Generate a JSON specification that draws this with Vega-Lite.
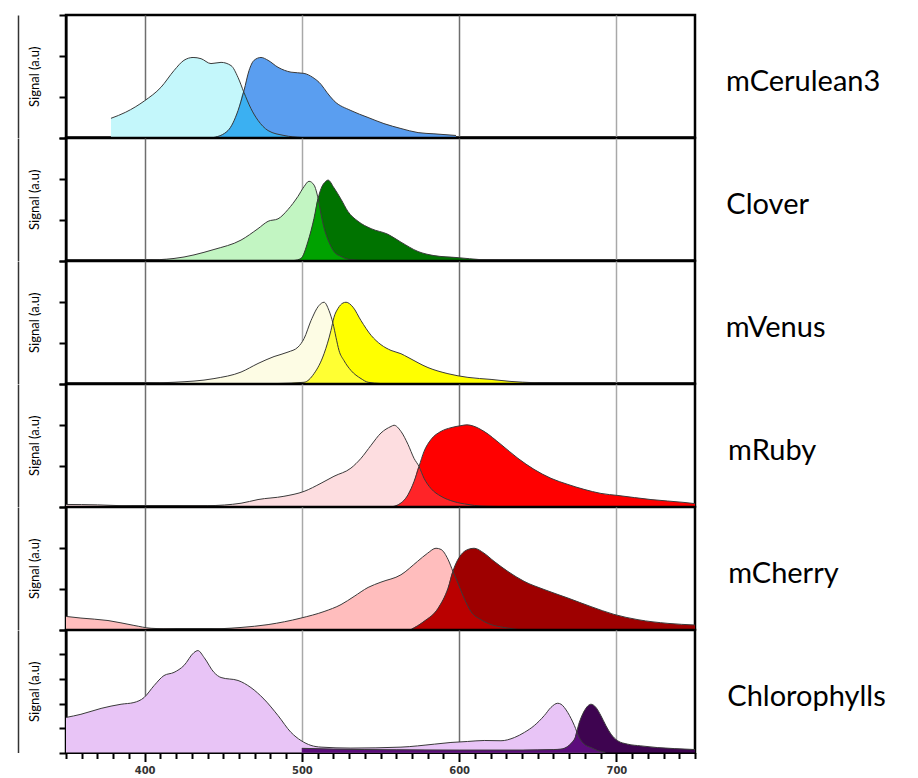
{
"$schema": "https://vega.github.io/schema/vega-lite/v6.json",
"padding": {"left": 16, "top": 12, "right": 5, "bottom": 5},
"background": "white",
"spacing": 0,
"bounds": "flush",
"config": {
  "view": {"stroke": "black", "strokeWidth": 2.5},
  "title": {"orient": "right", "angle": 0, "align": "left", "anchor": "middle", "dy": -8.5, "fontSize": 29, "font": "Lato", "fontWeight": "normal", "color": "black"},
  "axisY": {"labels": false, "tickSize": 7, "tickWidth": 2, "tickColor": "black", "domainColor": "black", "domainWidth": 2, "grid": false, "titleFont": "Lato", "titleFontSize": 13, "titleFontWeight": "normal", "titleColor": "black", "titlePadding": 17},
  "axisX": {"gridWidth": 1.5, "title": null},
  "line": {"color": "#3a3a3a", "strokeWidth": 1, "interpolate": "monotone"},
  "area": {"interpolate": "monotone"}
},
"data": {"values": [
{"dye":"mCerulean3","type":"ex","wl":378.6,"signal":0.47},{"dye":"mCerulean3","type":"ex","wl":388,"signal":0.62},{"dye":"mCerulean3","type":"ex","wl":400,"signal":0.9},{"dye":"mCerulean3","type":"ex","wl":410.4,"signal":1.23},{"dye":"mCerulean3","type":"ex","wl":418.7,"signal":1.64},{"dye":"mCerulean3","type":"ex","wl":425,"signal":1.89},{"dye":"mCerulean3","type":"ex","wl":430.8,"signal":1.96},{"dye":"mCerulean3","type":"ex","wl":435.9,"signal":1.93},{"dye":"mCerulean3","type":"ex","wl":442.2,"signal":1.81},{"dye":"mCerulean3","type":"ex","wl":448.6,"signal":1.84},{"dye":"mCerulean3","type":"ex","wl":455,"signal":1.76},{"dye":"mCerulean3","type":"ex","wl":459.4,"signal":1.47},{"dye":"mCerulean3","type":"ex","wl":463.2,"signal":1.1},{"dye":"mCerulean3","type":"ex","wl":467.6,"signal":0.71},{"dye":"mCerulean3","type":"ex","wl":472.1,"signal":0.42},{"dye":"mCerulean3","type":"ex","wl":478.5,"signal":0.17},{"dye":"mCerulean3","type":"ex","wl":488.6,"signal":0.05},{"dye":"mCerulean3","type":"ex","wl":500,"signal":0},
{"dye":"mCerulean3","type":"em","wl":444,"signal":0},{"dye":"mCerulean3","type":"em","wl":453,"signal":0.17},{"dye":"mCerulean3","type":"em","wl":459.4,"signal":0.66},{"dye":"mCerulean3","type":"em","wl":463.2,"signal":1.15},{"dye":"mCerulean3","type":"em","wl":466.4,"signal":1.64},{"dye":"mCerulean3","type":"em","wl":469.6,"signal":1.89},{"dye":"mCerulean3","type":"em","wl":474,"signal":1.96},{"dye":"mCerulean3","type":"em","wl":478.5,"signal":1.89},{"dye":"mCerulean3","type":"em","wl":484.8,"signal":1.72},{"dye":"mCerulean3","type":"em","wl":493.1,"signal":1.6},{"dye":"mCerulean3","type":"em","wl":501.4,"signal":1.57},{"dye":"mCerulean3","type":"em","wl":507,"signal":1.47},{"dye":"mCerulean3","type":"em","wl":512.2,"signal":1.3},{"dye":"mCerulean3","type":"em","wl":516,"signal":1.1},{"dye":"mCerulean3","type":"em","wl":520.4,"signal":0.9},{"dye":"mCerulean3","type":"em","wl":531.2,"signal":0.66},{"dye":"mCerulean3","type":"em","wl":542.1,"signal":0.49},{"dye":"mCerulean3","type":"em","wl":552.2,"signal":0.34},{"dye":"mCerulean3","type":"em","wl":563,"signal":0.22},{"dye":"mCerulean3","type":"em","wl":573.9,"signal":0.12},{"dye":"mCerulean3","type":"em","wl":584,"signal":0.09},{"dye":"mCerulean3","type":"em","wl":598,"signal":0.05},
{"dye":"mCerulean3","type":"ov","wl":444,"signal":0},{"dye":"mCerulean3","type":"ov","wl":453,"signal":0.17},{"dye":"mCerulean3","type":"ov","wl":459.4,"signal":0.66},{"dye":"mCerulean3","type":"ov","wl":463,"signal":1.12},{"dye":"mCerulean3","type":"ov","wl":467.6,"signal":0.71},{"dye":"mCerulean3","type":"ov","wl":472.1,"signal":0.42},{"dye":"mCerulean3","type":"ov","wl":478.5,"signal":0.17},{"dye":"mCerulean3","type":"ov","wl":488.6,"signal":0.05},{"dye":"mCerulean3","type":"ov","wl":500,"signal":0},

{"dye":"Clover","type":"ex","wl":350,"signal":0},{"dye":"Clover","type":"ex","wl":400,"signal":0.01},{"dye":"Clover","type":"ex","wl":418.7,"signal":0.05},{"dye":"Clover","type":"ex","wl":444.1,"signal":0.27},{"dye":"Clover","type":"ex","wl":461.3,"signal":0.5},{"dye":"Clover","type":"ex","wl":472.1,"signal":0.78},{"dye":"Clover","type":"ex","wl":478.5,"signal":0.96},{"dye":"Clover","type":"ex","wl":484.8,"signal":1.02},{"dye":"Clover","type":"ex","wl":491.2,"signal":1.25},{"dye":"Clover","type":"ex","wl":497.5,"signal":1.57},{"dye":"Clover","type":"ex","wl":501.4,"signal":1.81},{"dye":"Clover","type":"ex","wl":504.5,"signal":1.94},{"dye":"Clover","type":"ex","wl":507.7,"signal":1.85},{"dye":"Clover","type":"ex","wl":510.3,"signal":1.52},{"dye":"Clover","type":"ex","wl":512.2,"signal":1.13},{"dye":"Clover","type":"ex","wl":514.1,"signal":0.8},{"dye":"Clover","type":"ex","wl":516.6,"signal":0.51},{"dye":"Clover","type":"ex","wl":520.4,"signal":0.22},{"dye":"Clover","type":"ex","wl":524.9,"signal":0.1},{"dye":"Clover","type":"ex","wl":531.2,"signal":0.02},{"dye":"Clover","type":"ex","wl":540,"signal":0},
{"dye":"Clover","type":"em","wl":495,"signal":0},{"dye":"Clover","type":"em","wl":499.4,"signal":0.05},{"dye":"Clover","type":"em","wl":503.9,"signal":0.47},{"dye":"Clover","type":"em","wl":507.7,"signal":1.03},{"dye":"Clover","type":"em","wl":510.3,"signal":1.52},{"dye":"Clover","type":"em","wl":512.2,"signal":1.76},{"dye":"Clover","type":"em","wl":515.3,"signal":1.94},{"dye":"Clover","type":"em","wl":516.6,"signal":1.97},{"dye":"Clover","type":"em","wl":520.4,"signal":1.78},{"dye":"Clover","type":"em","wl":524.9,"signal":1.5},{"dye":"Clover","type":"em","wl":529.3,"signal":1.2},{"dye":"Clover","type":"em","wl":535.7,"signal":0.96},{"dye":"Clover","type":"em","wl":544,"signal":0.78},{"dye":"Clover","type":"em","wl":554.8,"signal":0.64},{"dye":"Clover","type":"em","wl":563,"signal":0.45},{"dye":"Clover","type":"em","wl":573.9,"signal":0.22},{"dye":"Clover","type":"em","wl":584,"signal":0.12},{"dye":"Clover","type":"em","wl":599.3,"signal":0.07},{"dye":"Clover","type":"em","wl":613.9,"signal":0.02},{"dye":"Clover","type":"em","wl":625,"signal":0},
{"dye":"Clover","type":"ov","wl":495,"signal":0},{"dye":"Clover","type":"ov","wl":499.4,"signal":0.05},{"dye":"Clover","type":"ov","wl":503.9,"signal":0.47},{"dye":"Clover","type":"ov","wl":507.7,"signal":1.03},{"dye":"Clover","type":"ov","wl":510.3,"signal":1.52},{"dye":"Clover","type":"ov","wl":512.2,"signal":1.13},{"dye":"Clover","type":"ov","wl":514.1,"signal":0.8},{"dye":"Clover","type":"ov","wl":516.6,"signal":0.51},{"dye":"Clover","type":"ov","wl":520.4,"signal":0.22},{"dye":"Clover","type":"ov","wl":524.9,"signal":0.1},{"dye":"Clover","type":"ov","wl":531.2,"signal":0.02},{"dye":"Clover","type":"ov","wl":540,"signal":0},

{"dye":"mVenus","type":"ex","wl":350,"signal":0},{"dye":"mVenus","type":"ex","wl":400,"signal":0.01},{"dye":"mVenus","type":"ex","wl":418.7,"signal":0.03},{"dye":"mVenus","type":"ex","wl":444.1,"signal":0.12},{"dye":"mVenus","type":"ex","wl":461.3,"signal":0.28},{"dye":"mVenus","type":"ex","wl":472.1,"signal":0.49},{"dye":"mVenus","type":"ex","wl":482.3,"signal":0.66},{"dye":"mVenus","type":"ex","wl":491.2,"signal":0.77},{"dye":"mVenus","type":"ex","wl":497.5,"signal":0.89},{"dye":"mVenus","type":"ex","wl":501.4,"signal":1.1},{"dye":"mVenus","type":"ex","wl":505.8,"signal":1.54},{"dye":"mVenus","type":"ex","wl":510.9,"signal":1.91},{"dye":"mVenus","type":"ex","wl":514.1,"signal":1.99},{"dye":"mVenus","type":"ex","wl":517.2,"signal":1.79},{"dye":"mVenus","type":"ex","wl":519.8,"signal":1.47},{"dye":"mVenus","type":"ex","wl":521.7,"signal":1.13},{"dye":"mVenus","type":"ex","wl":523.6,"signal":0.81},{"dye":"mVenus","type":"ex","wl":526.8,"signal":0.56},{"dye":"mVenus","type":"ex","wl":531.2,"signal":0.32},{"dye":"mVenus","type":"ex","wl":537.6,"signal":0.12},{"dye":"mVenus","type":"ex","wl":542.1,"signal":0.03},{"dye":"mVenus","type":"ex","wl":550,"signal":0},
{"dye":"mVenus","type":"em","wl":484.8,"signal":0},{"dye":"mVenus","type":"em","wl":501.4,"signal":0.03},{"dye":"mVenus","type":"em","wl":507.7,"signal":0.24},{"dye":"mVenus","type":"em","wl":514.1,"signal":0.73},{"dye":"mVenus","type":"em","wl":518.5,"signal":1.3},{"dye":"mVenus","type":"em","wl":520.4,"signal":1.62},{"dye":"mVenus","type":"em","wl":523,"signal":1.84},{"dye":"mVenus","type":"em","wl":526.1,"signal":1.97},{"dye":"mVenus","type":"em","wl":528.1,"signal":1.99},{"dye":"mVenus","type":"em","wl":532.5,"signal":1.87},{"dye":"mVenus","type":"em","wl":537.6,"signal":1.54},{"dye":"mVenus","type":"em","wl":544,"signal":1.18},{"dye":"mVenus","type":"em","wl":550.3,"signal":0.95},{"dye":"mVenus","type":"em","wl":556.7,"signal":0.81},{"dye":"mVenus","type":"em","wl":563,"signal":0.73},{"dye":"mVenus","type":"em","wl":567.5,"signal":0.64},{"dye":"mVenus","type":"em","wl":580.2,"signal":0.39},{"dye":"mVenus","type":"em","wl":592.9,"signal":0.24},{"dye":"mVenus","type":"em","wl":605.6,"signal":0.15},{"dye":"mVenus","type":"em","wl":620.3,"signal":0.1},{"dye":"mVenus","type":"em","wl":633,"signal":0.05},{"dye":"mVenus","type":"em","wl":647.6,"signal":0.02},{"dye":"mVenus","type":"em","wl":660,"signal":0},
{"dye":"mVenus","type":"ov","wl":484.8,"signal":0},{"dye":"mVenus","type":"ov","wl":501.4,"signal":0.03},{"dye":"mVenus","type":"ov","wl":507.7,"signal":0.24},{"dye":"mVenus","type":"ov","wl":514.1,"signal":0.73},{"dye":"mVenus","type":"ov","wl":518.5,"signal":1.3},{"dye":"mVenus","type":"ov","wl":519.7,"signal":1.48},{"dye":"mVenus","type":"ov","wl":521.7,"signal":1.13},{"dye":"mVenus","type":"ov","wl":523.6,"signal":0.81},{"dye":"mVenus","type":"ov","wl":526.8,"signal":0.56},{"dye":"mVenus","type":"ov","wl":531.2,"signal":0.32},{"dye":"mVenus","type":"ov","wl":537.6,"signal":0.12},{"dye":"mVenus","type":"ov","wl":542.1,"signal":0.03},{"dye":"mVenus","type":"ov","wl":550,"signal":0},

{"dye":"mRuby","type":"ex","wl":350,"signal":0.05},{"dye":"mRuby","type":"ex","wl":370,"signal":0.04},{"dye":"mRuby","type":"ex","wl":385,"signal":0.02},{"dye":"mRuby","type":"ex","wl":400,"signal":0.01},{"dye":"mRuby","type":"ex","wl":440,"signal":0.02},{"dye":"mRuby","type":"ex","wl":461.3,"signal":0.08},{"dye":"mRuby","type":"ex","wl":472.1,"signal":0.17},{"dye":"mRuby","type":"ex","wl":488.6,"signal":0.25},{"dye":"mRuby","type":"ex","wl":501.4,"signal":0.37},{"dye":"mRuby","type":"ex","wl":512.2,"signal":0.57},{"dye":"mRuby","type":"ex","wl":520.4,"signal":0.74},{"dye":"mRuby","type":"ex","wl":531.2,"signal":0.94},{"dye":"mRuby","type":"ex","wl":537.6,"signal":1.18},{"dye":"mRuby","type":"ex","wl":544,"signal":1.5},{"dye":"mRuby","type":"ex","wl":550.3,"signal":1.8},{"dye":"mRuby","type":"ex","wl":556.7,"signal":1.96},{"dye":"mRuby","type":"ex","wl":558.6,"signal":1.99},{"dye":"mRuby","type":"ex","wl":563,"signal":1.84},{"dye":"mRuby","type":"ex","wl":567.5,"signal":1.52},{"dye":"mRuby","type":"ex","wl":571.3,"signal":1.18},{"dye":"mRuby","type":"ex","wl":574.5,"signal":0.98},{"dye":"mRuby","type":"ex","wl":577.7,"signal":0.69},{"dye":"mRuby","type":"ex","wl":582.1,"signal":0.44},{"dye":"mRuby","type":"ex","wl":588.5,"signal":0.25},{"dye":"mRuby","type":"ex","wl":596.7,"signal":0.12},{"dye":"mRuby","type":"ex","wl":605.6,"signal":0.05},{"dye":"mRuby","type":"ex","wl":613.9,"signal":0.01},{"dye":"mRuby","type":"ex","wl":625,"signal":0},
{"dye":"mRuby","type":"em","wl":558,"signal":0},{"dye":"mRuby","type":"em","wl":560.5,"signal":0.03},{"dye":"mRuby","type":"em","wl":567.5,"signal":0.29},{"dye":"mRuby","type":"em","wl":571.3,"signal":0.61},{"dye":"mRuby","type":"em","wl":574.5,"signal":0.98},{"dye":"mRuby","type":"em","wl":577.7,"signal":1.35},{"dye":"mRuby","type":"em","wl":582.1,"signal":1.64},{"dye":"mRuby","type":"em","wl":588.5,"signal":1.84},{"dye":"mRuby","type":"em","wl":594.8,"signal":1.93},{"dye":"mRuby","type":"em","wl":601.2,"signal":1.98},{"dye":"mRuby","type":"em","wl":605,"signal":2.0},{"dye":"mRuby","type":"em","wl":609,"signal":1.97},{"dye":"mRuby","type":"em","wl":615.8,"signal":1.84},{"dye":"mRuby","type":"em","wl":626.6,"signal":1.52},{"dye":"mRuby","type":"em","wl":637.4,"signal":1.18},{"dye":"mRuby","type":"em","wl":647.6,"signal":0.91},{"dye":"mRuby","type":"em","wl":658.4,"signal":0.69},{"dye":"mRuby","type":"em","wl":669.2,"signal":0.54},{"dye":"mRuby","type":"em","wl":679.4,"signal":0.42},{"dye":"mRuby","type":"em","wl":690.2,"signal":0.32},{"dye":"mRuby","type":"em","wl":701,"signal":0.27},{"dye":"mRuby","type":"em","wl":722,"signal":0.17},{"dye":"mRuby","type":"em","wl":743,"signal":0.1},{"dye":"mRuby","type":"em","wl":750,"signal":0.07},
{"dye":"mRuby","type":"ov","wl":558,"signal":0},{"dye":"mRuby","type":"ov","wl":560.5,"signal":0.03},{"dye":"mRuby","type":"ov","wl":567.5,"signal":0.29},{"dye":"mRuby","type":"ov","wl":571.3,"signal":0.61},{"dye":"mRuby","type":"ov","wl":574.5,"signal":0.98},{"dye":"mRuby","type":"ov","wl":577.7,"signal":0.69},{"dye":"mRuby","type":"ov","wl":582.1,"signal":0.44},{"dye":"mRuby","type":"ov","wl":588.5,"signal":0.25},{"dye":"mRuby","type":"ov","wl":596.7,"signal":0.12},{"dye":"mRuby","type":"ov","wl":605.6,"signal":0.05},{"dye":"mRuby","type":"ov","wl":613.9,"signal":0.01},{"dye":"mRuby","type":"ov","wl":625,"signal":0},

{"dye":"mCherry","type":"ex","wl":350,"signal":0.32},{"dye":"mCherry","type":"ex","wl":359.5,"signal":0.28},{"dye":"mCherry","type":"ex","wl":376.7,"signal":0.22},{"dye":"mCherry","type":"ex","wl":393.2,"signal":0.1},{"dye":"mCherry","type":"ex","wl":404.1,"signal":0.03},{"dye":"mCherry","type":"ex","wl":420,"signal":0.01},{"dye":"mCherry","type":"ex","wl":435.9,"signal":0.01},{"dye":"mCherry","type":"ex","wl":461.3,"signal":0.05},{"dye":"mCherry","type":"ex","wl":478.5,"signal":0.12},{"dye":"mCherry","type":"ex","wl":499.4,"signal":0.28},{"dye":"mCherry","type":"ex","wl":514.1,"signal":0.44},{"dye":"mCherry","type":"ex","wl":524.9,"signal":0.61},{"dye":"mCherry","type":"ex","wl":533.2,"signal":0.81},{"dye":"mCherry","type":"ex","wl":542.1,"signal":1.03},{"dye":"mCherry","type":"ex","wl":550.3,"signal":1.16},{"dye":"mCherry","type":"ex","wl":563,"signal":1.34},{"dye":"mCherry","type":"ex","wl":573.6,"signal":1.67},{"dye":"mCherry","type":"ex","wl":580,"signal":1.87},{"dye":"mCherry","type":"ex","wl":585.3,"signal":1.99},{"dye":"mCherry","type":"ex","wl":588.5,"signal":1.96},{"dye":"mCherry","type":"ex","wl":592.9,"signal":1.72},{"dye":"mCherry","type":"ex","wl":596.1,"signal":1.42},{"dye":"mCherry","type":"ex","wl":599.3,"signal":1.13},{"dye":"mCherry","type":"ex","wl":603.1,"signal":0.77},{"dye":"mCherry","type":"ex","wl":607.5,"signal":0.44},{"dye":"mCherry","type":"ex","wl":613.9,"signal":0.24},{"dye":"mCherry","type":"ex","wl":620.3,"signal":0.12},{"dye":"mCherry","type":"ex","wl":628.5,"signal":0.05},{"dye":"mCherry","type":"ex","wl":637.4,"signal":0},
{"dye":"mCherry","type":"em","wl":569.4,"signal":0},{"dye":"mCherry","type":"em","wl":577.7,"signal":0.2},{"dye":"mCherry","type":"em","wl":586.6,"signal":0.52},{"dye":"mCherry","type":"em","wl":592.9,"signal":1.01},{"dye":"mCherry","type":"em","wl":596.7,"signal":1.5},{"dye":"mCherry","type":"em","wl":601.2,"signal":1.83},{"dye":"mCherry","type":"em","wl":605.6,"signal":1.96},{"dye":"mCherry","type":"em","wl":609.5,"signal":1.99},{"dye":"mCherry","type":"em","wl":615.8,"signal":1.87},{"dye":"mCherry","type":"em","wl":622.2,"signal":1.67},{"dye":"mCherry","type":"em","wl":631.1,"signal":1.42},{"dye":"mCherry","type":"em","wl":641.3,"signal":1.18},{"dye":"mCherry","type":"em","wl":654,"signal":0.98},{"dye":"mCherry","type":"em","wl":669.2,"signal":0.77},{"dye":"mCherry","type":"em","wl":683.9,"signal":0.56},{"dye":"mCherry","type":"em","wl":698.5,"signal":0.37},{"dye":"mCherry","type":"em","wl":713.8,"signal":0.24},{"dye":"mCherry","type":"em","wl":732.8,"signal":0.15},{"dye":"mCherry","type":"em","wl":750,"signal":0.11},
{"dye":"mCherry","type":"ov","wl":569.4,"signal":0},{"dye":"mCherry","type":"ov","wl":577.7,"signal":0.2},{"dye":"mCherry","type":"ov","wl":586.6,"signal":0.52},{"dye":"mCherry","type":"ov","wl":592.9,"signal":1.01},{"dye":"mCherry","type":"ov","wl":596.1,"signal":1.42},{"dye":"mCherry","type":"ov","wl":599.3,"signal":1.13},{"dye":"mCherry","type":"ov","wl":603.1,"signal":0.77},{"dye":"mCherry","type":"ov","wl":607.5,"signal":0.44},{"dye":"mCherry","type":"ov","wl":613.9,"signal":0.24},{"dye":"mCherry","type":"ov","wl":620.3,"signal":0.12},{"dye":"mCherry","type":"ov","wl":628.5,"signal":0.05},{"dye":"mCherry","type":"ov","wl":637.4,"signal":0},

{"dye":"Chlorophylls","type":"ex","wl":350,"signal":1.43},{"dye":"Chlorophylls","type":"ex","wl":359.5,"signal":1.56},{"dye":"Chlorophylls","type":"ex","wl":372.3,"signal":1.8},{"dye":"Chlorophylls","type":"ex","wl":385,"signal":1.97},{"dye":"Chlorophylls","type":"ex","wl":393.2,"signal":2.04},{"dye":"Chlorophylls","type":"ex","wl":399.6,"signal":2.24},{"dye":"Chlorophylls","type":"ex","wl":406,"signal":2.73},{"dye":"Chlorophylls","type":"ex","wl":412.3,"signal":3.14},{"dye":"Chlorophylls","type":"ex","wl":418.7,"signal":3.27},{"dye":"Chlorophylls","type":"ex","wl":425,"signal":3.55},{"dye":"Chlorophylls","type":"ex","wl":431.4,"signal":4.08},{"dye":"Chlorophylls","type":"ex","wl":433.9,"signal":4.16},{"dye":"Chlorophylls","type":"ex","wl":437.8,"signal":3.88},{"dye":"Chlorophylls","type":"ex","wl":444.1,"signal":3.27},{"dye":"Chlorophylls","type":"ex","wl":448.6,"signal":3.06},{"dye":"Chlorophylls","type":"ex","wl":459.4,"signal":2.94},{"dye":"Chlorophylls","type":"ex","wl":467.6,"signal":2.65},{"dye":"Chlorophylls","type":"ex","wl":475.9,"signal":2.18},{"dye":"Chlorophylls","type":"ex","wl":484.8,"signal":1.51},{"dye":"Chlorophylls","type":"ex","wl":493.1,"signal":0.82},{"dye":"Chlorophylls","type":"ex","wl":499.4,"signal":0.49},{"dye":"Chlorophylls","type":"ex","wl":505.8,"signal":0.29},{"dye":"Chlorophylls","type":"ex","wl":512.2,"signal":0.22},{"dye":"Chlorophylls","type":"ex","wl":531.2,"signal":0.18},{"dye":"Chlorophylls","type":"ex","wl":563,"signal":0.22},{"dye":"Chlorophylls","type":"ex","wl":584.2,"signal":0.34},{"dye":"Chlorophylls","type":"ex","wl":594.8,"signal":0.41},{"dye":"Chlorophylls","type":"ex","wl":605.4,"signal":0.45},{"dye":"Chlorophylls","type":"ex","wl":616,"signal":0.49},{"dye":"Chlorophylls","type":"ex","wl":626.6,"signal":0.48},{"dye":"Chlorophylls","type":"ex","wl":635.1,"signal":0.61},{"dye":"Chlorophylls","type":"ex","wl":641.5,"signal":0.82},{"dye":"Chlorophylls","type":"ex","wl":647.8,"signal":1.1},{"dye":"Chlorophylls","type":"ex","wl":654.2,"signal":1.51},{"dye":"Chlorophylls","type":"ex","wl":658.4,"signal":1.84},{"dye":"Chlorophylls","type":"ex","wl":662.7,"signal":2.01},{"dye":"Chlorophylls","type":"ex","wl":664.8,"signal":1.97},{"dye":"Chlorophylls","type":"ex","wl":669.1,"signal":1.63},{"dye":"Chlorophylls","type":"ex","wl":673.3,"signal":1.1},{"dye":"Chlorophylls","type":"ex","wl":676.4,"signal":0.61},{"dye":"Chlorophylls","type":"ex","wl":679.6,"signal":0.34},{"dye":"Chlorophylls","type":"ex","wl":683.9,"signal":0.2},{"dye":"Chlorophylls","type":"ex","wl":688.1,"signal":0.08},{"dye":"Chlorophylls","type":"ex","wl":693,"signal":0},
{"dye":"Chlorophylls","type":"em","wl":500,"signal":0.17},{"dye":"Chlorophylls","type":"em","wl":520,"signal":0.14},{"dye":"Chlorophylls","type":"em","wl":540,"signal":0.12},{"dye":"Chlorophylls","type":"em","wl":560,"signal":0.11},{"dye":"Chlorophylls","type":"em","wl":600,"signal":0.1},{"dye":"Chlorophylls","type":"em","wl":640,"signal":0.1},{"dye":"Chlorophylls","type":"em","wl":660,"signal":0.12},{"dye":"Chlorophylls","type":"em","wl":664.8,"signal":0.14},{"dye":"Chlorophylls","type":"em","wl":673.3,"signal":0.54},{"dye":"Chlorophylls","type":"em","wl":676.4,"signal":1.22},{"dye":"Chlorophylls","type":"em","wl":679.6,"signal":1.7},{"dye":"Chlorophylls","type":"em","wl":683.9,"signal":1.97},{"dye":"Chlorophylls","type":"em","wl":687,"signal":1.84},{"dye":"Chlorophylls","type":"em","wl":690.2,"signal":1.5},{"dye":"Chlorophylls","type":"em","wl":693.4,"signal":1.09},{"dye":"Chlorophylls","type":"em","wl":696.6,"signal":0.75},{"dye":"Chlorophylls","type":"em","wl":700.8,"signal":0.48},{"dye":"Chlorophylls","type":"em","wl":707.2,"signal":0.34},{"dye":"Chlorophylls","type":"em","wl":715.6,"signal":0.27},{"dye":"Chlorophylls","type":"em","wl":726.3,"signal":0.2},{"dye":"Chlorophylls","type":"em","wl":736.8,"signal":0.16},{"dye":"Chlorophylls","type":"em","wl":750,"signal":0.12},
{"dye":"Chlorophylls","type":"ov","wl":500,"signal":0.17},{"dye":"Chlorophylls","type":"ov","wl":520,"signal":0.14},{"dye":"Chlorophylls","type":"ov","wl":540,"signal":0.12},{"dye":"Chlorophylls","type":"ov","wl":560,"signal":0.11},{"dye":"Chlorophylls","type":"ov","wl":600,"signal":0.1},{"dye":"Chlorophylls","type":"ov","wl":640,"signal":0.1},{"dye":"Chlorophylls","type":"ov","wl":660,"signal":0.12},{"dye":"Chlorophylls","type":"ov","wl":664.8,"signal":0.14},{"dye":"Chlorophylls","type":"ov","wl":673.3,"signal":0.54},{"dye":"Chlorophylls","type":"ov","wl":674.8,"signal":0.88},{"dye":"Chlorophylls","type":"ov","wl":676.4,"signal":0.61},{"dye":"Chlorophylls","type":"ov","wl":679.6,"signal":0.34},{"dye":"Chlorophylls","type":"ov","wl":683.9,"signal":0.2},{"dye":"Chlorophylls","type":"ov","wl":688.1,"signal":0.08},{"dye":"Chlorophylls","type":"ov","wl":693,"signal":0}
]},
"vconcat": [
{"title": {"text": "mCerulean3", "offset": -46}, "width": 629, "height": 122.5,
 "transform": [{"filter": "datum.dye === 'mCerulean3'"}],
 "encoding": {
  "x": {"field": "wl", "type": "quantitative", "scale": {"domain": [350, 750], "nice": false, "zero": false}, "axis": {"values": [400, 500, 600, 700], "labels": false, "ticks": false, "domain": false, "grid": true, "gridColor": {"condition": {"test": "datum.value % 200 === 0", "value": "#6e6e6e"}, "value": "#a8a8a8"}}}},
 "resolve": {"axis": {"y": "independent"}},
 "layer": [
  {"encoding": {"y": {"field": "signal", "type": "quantitative", "scale": {"domain": [0, 3], "nice": false}, "axis": {"values": [0, 1, 2, 3], "title": "Signal (a.u)"}}},
   "layer": [
    {"transform": [{"filter": "datum.type === 'ex'"}], "mark": {"type": "area", "color": "#C4F7FB"}},
    {"transform": [{"filter": "datum.type === 'em'"}], "mark": {"type": "area", "color": "#5A9EF0"}},
    {"transform": [{"filter": "datum.type === 'ov'"}], "mark": {"type": "area", "color": "#3BB0F2"}}
   ]},
  {"transform": [{"filter": "datum.type !== 'ov'"}], "mark": {"type": "line"},
   "encoding": {"detail": {"field": "type"}, "y": {"field": "signal", "type": "quantitative", "scale": {"domain": [0, 3], "nice": false}, "axis": {"orient": "left", "offset": 48, "ticks": false, "labels": false, "title": null, "domainColor": "#333", "domainWidth": 1.5}}}}
 ]},
{"title": {"text": "Clover", "offset": -10}, "width": 629, "height": 122.5,
 "transform": [{"filter": "datum.dye === 'Clover'"}],
 "encoding": {
  "x": {"field": "wl", "type": "quantitative", "scale": {"domain": [350, 750], "nice": false, "zero": false}, "axis": {"values": [400, 500, 600, 700], "labels": false, "ticks": false, "domain": false, "grid": true, "gridColor": {"condition": {"test": "datum.value % 200 === 0", "value": "#6e6e6e"}, "value": "#a8a8a8"}}}},
 "resolve": {"axis": {"y": "independent"}},
 "layer": [
  {"encoding": {"y": {"field": "signal", "type": "quantitative", "scale": {"domain": [0, 3], "nice": false}, "axis": {"values": [0, 1, 2, 3], "title": "Signal (a.u)"}}},
   "layer": [
    {"transform": [{"filter": "datum.type === 'ex'"}], "mark": {"type": "area", "color": "#C2F5C2"}},
    {"transform": [{"filter": "datum.type === 'em'"}], "mark": {"type": "area", "color": "#007300"}},
    {"transform": [{"filter": "datum.type === 'ov'"}], "mark": {"type": "area", "color": "#00A200"}}
   ]},
  {"transform": [{"filter": "datum.type !== 'ov'"}], "mark": {"type": "line"},
   "encoding": {"detail": {"field": "type"}, "y": {"field": "signal", "type": "quantitative", "scale": {"domain": [0, 3], "nice": false}, "axis": {"orient": "left", "offset": 48, "ticks": false, "labels": false, "title": null, "domainColor": "#333", "domainWidth": 1.5}}}}
 ]},
{"title": {"text": "mVenus", "offset": -19}, "width": 629, "height": 122.5,
 "transform": [{"filter": "datum.dye === 'mVenus'"}],
 "encoding": {
  "x": {"field": "wl", "type": "quantitative", "scale": {"domain": [350, 750], "nice": false, "zero": false}, "axis": {"values": [400, 500, 600, 700], "labels": false, "ticks": false, "domain": false, "grid": true, "gridColor": {"condition": {"test": "datum.value % 200 === 0", "value": "#6e6e6e"}, "value": "#a8a8a8"}}}},
 "resolve": {"axis": {"y": "independent"}},
 "layer": [
  {"encoding": {"y": {"field": "signal", "type": "quantitative", "scale": {"domain": [0, 3], "nice": false}, "axis": {"values": [0, 1, 2, 3], "title": "Signal (a.u)"}}},
   "layer": [
    {"transform": [{"filter": "datum.type === 'ex'"}], "mark": {"type": "area", "color": "#FDFCE4"}},
    {"transform": [{"filter": "datum.type === 'em'"}], "mark": {"type": "area", "color": "#FFFF00"}},
    {"transform": [{"filter": "datum.type === 'ov'"}], "mark": {"type": "area", "color": "#FFFF33"}}
   ]},
  {"transform": [{"filter": "datum.type !== 'ov'"}], "mark": {"type": "line"},
   "encoding": {"detail": {"field": "type"}, "y": {"field": "signal", "type": "quantitative", "scale": {"domain": [0, 3], "nice": false}, "axis": {"orient": "left", "offset": 48, "ticks": false, "labels": false, "title": null, "domainColor": "#333", "domainWidth": 1.5}}}}
 ]},
{"title": {"text": "mRuby", "offset": -13}, "width": 629, "height": 122.5,
 "transform": [{"filter": "datum.dye === 'mRuby'"}],
 "encoding": {
  "x": {"field": "wl", "type": "quantitative", "scale": {"domain": [350, 750], "nice": false, "zero": false}, "axis": {"values": [400, 500, 600, 700], "labels": false, "ticks": false, "domain": false, "grid": true, "gridColor": {"condition": {"test": "datum.value % 200 === 0", "value": "#6e6e6e"}, "value": "#a8a8a8"}}}},
 "resolve": {"axis": {"y": "independent"}},
 "layer": [
  {"encoding": {"y": {"field": "signal", "type": "quantitative", "scale": {"domain": [0, 3], "nice": false}, "axis": {"values": [0, 1, 2, 3], "title": "Signal (a.u)"}}},
   "layer": [
    {"transform": [{"filter": "datum.type === 'ex'"}], "mark": {"type": "area", "color": "#FDDDE0"}},
    {"transform": [{"filter": "datum.type === 'em'"}], "mark": {"type": "area", "color": "#FF0000"}},
    {"transform": [{"filter": "datum.type === 'ov'"}], "mark": {"type": "area", "color": "#FF2428"}}
   ]},
  {"transform": [{"filter": "datum.type !== 'ov'"}], "mark": {"type": "line"},
   "encoding": {"detail": {"field": "type"}, "y": {"field": "signal", "type": "quantitative", "scale": {"domain": [0, 3], "nice": false}, "axis": {"orient": "left", "offset": 48, "ticks": false, "labels": false, "title": null, "domainColor": "#333", "domainWidth": 1.5}}}}
 ]},
{"title": {"text": "mCherry", "offset": -24}, "width": 629, "height": 122.5,
 "transform": [{"filter": "datum.dye === 'mCherry'"}],
 "encoding": {
  "x": {"field": "wl", "type": "quantitative", "scale": {"domain": [350, 750], "nice": false, "zero": false}, "axis": {"values": [400, 500, 600, 700], "labels": false, "ticks": false, "domain": false, "grid": true, "gridColor": {"condition": {"test": "datum.value % 200 === 0", "value": "#6e6e6e"}, "value": "#a8a8a8"}}}},
 "resolve": {"axis": {"y": "independent"}},
 "layer": [
  {"encoding": {"y": {"field": "signal", "type": "quantitative", "scale": {"domain": [0, 3], "nice": false}, "axis": {"values": [0, 1, 2, 3], "title": "Signal (a.u)"}}},
   "layer": [
    {"transform": [{"filter": "datum.type === 'ex'"}], "mark": {"type": "area", "color": "#FFBDBD"}},
    {"transform": [{"filter": "datum.type === 'em'"}], "mark": {"type": "area", "color": "#9E0000"}},
    {"transform": [{"filter": "datum.type === 'ov'"}], "mark": {"type": "area", "color": "#BA0000"}}
   ]},
  {"transform": [{"filter": "datum.type !== 'ov'"}], "mark": {"type": "line"},
   "encoding": {"detail": {"field": "type"}, "y": {"field": "signal", "type": "quantitative", "scale": {"domain": [0, 3], "nice": false}, "axis": {"orient": "left", "offset": 48, "ticks": false, "labels": false, "title": null, "domainColor": "#333", "domainWidth": 1.5}}}}
 ]},
{"title": {"text": "Chlorophylls", "offset": -49}, "width": 629, "height": 122.5,
 "transform": [{"filter": "datum.dye === 'Chlorophylls'"}],
 "encoding": {
  "x": {"field": "wl", "type": "quantitative", "scale": {"domain": [350, 750], "nice": false, "zero": false}, "axis": {"values": [350,360,370,380,390,400,410,420,430,440,450,460,470,480,490,500,510,520,530,540,550,560,570,580,590,600,610,620,630,640,650,660,670,680,690,700,710,720,730,740,750], "labelExpr": "datum.value % 100 === 0 ? datum.label : ''", "labelFont": "DejaVu Sans", "labelFontWeight": "bold", "labelFontSize": 10, "labelColor": "#333", "labelPadding": 4, "labelFlush": false, "ticks": true, "tickColor": "black", "tickWidth": 2, "tickSize": {"condition": {"test": "datum.value % 100 === 0", "value": 9}, "value": 6}, "domain": true, "domainColor": "black", "domainWidth": 2, "grid": true, "gridColor": {"condition": {"test": "datum.value % 200 === 0", "value": "#6e6e6e"}, "value": "#a8a8a8"}, "gridOpacity": {"condition": {"test": "datum.value % 100 === 0 && datum.value > 350 && datum.value < 750", "value": 1}, "value": 0}}}},
 "resolve": {"axis": {"y": "independent"}},
 "layer": [
  {"encoding": {"y": {"field": "signal", "type": "quantitative", "scale": {"domain": [0, 5], "nice": false}, "axis": {"values": [0, 1, 2, 3, 4, 5], "title": "Signal (a.u)"}}},
   "layer": [
    {"transform": [{"filter": "datum.type === 'ex'"}], "mark": {"type": "area", "color": "#E8C4F6"}},
    {"transform": [{"filter": "datum.type === 'em'"}], "mark": {"type": "area", "color": "#3E0450"}},
    {"transform": [{"filter": "datum.type === 'ov'"}], "mark": {"type": "area", "color": "#5C0C7C"}}
   ]},
  {"transform": [{"filter": "datum.type !== 'ov'"}], "mark": {"type": "line"},
   "encoding": {"detail": {"field": "type"}, "y": {"field": "signal", "type": "quantitative", "scale": {"domain": [0, 5], "nice": false}, "axis": {"orient": "left", "offset": 48, "ticks": false, "labels": false, "title": null, "domainColor": "#333", "domainWidth": 1.5}}}}
 ]}
]
}
